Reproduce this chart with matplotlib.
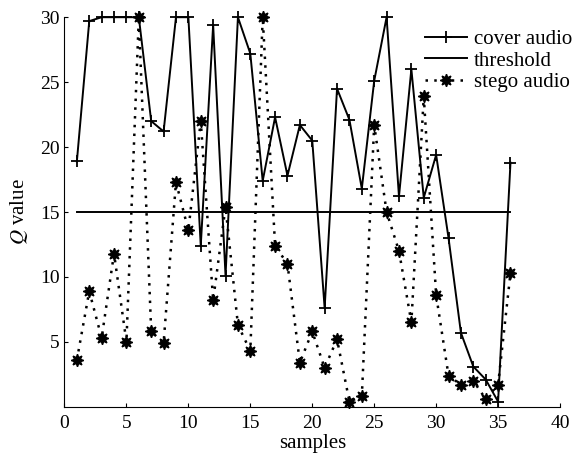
import matplotlib.pyplot as plt

# --------------------------
# data
# --------------------------
samples = list(range(1, 37))
cover = [18.9, 29.7, 30, 30, 30, 30, 22.0, 21.2, 30, 30,
         12.4, 29.4, 10.1, 30, 27.2, 17.4, 22.3, 17.8, 21.7, 20.5,
         7.6, 24.5, 22.1, 16.8, 25.1, 30, 16.2, 26.0, 16.1, 19.4,
         13.0, 5.7, 3.1, 2.1, 0.4, 18.8]
stego = [3.6, 8.9, 5.3, 11.8, 5.0, 30, 5.8, 4.9, 17.3, 13.6,
         22.0, 8.2, 15.4, 6.3, 4.3, 30, 12.4, 11.0, 3.4, 5.8,
         3.0, 5.2, 0.4, 0.8, 21.7, 15.0, 12.0, 6.5, 23.9, 8.6,
         2.4, 1.7, 2.0, 0.6, 1.7, 10.3]
threshold = 15
xticks = [0, 5, 10, 15, 20, 25, 30, 35, 40]
yticks = [5, 10, 15, 20, 25, 30]

plt.rcParams['font.family'] = ['Liberation Serif', 'DejaVu Serif']
plt.rcParams['mathtext.fontset'] = 'stix'
plt.rcParams['font.size'] = 14

fig = plt.figure(figsize=(5.83, 4.53), dpi=100)
ax = fig.add_axes([0.1106, 0.102, 0.85, 0.86])

ax.plot(samples, cover, '-', color='black', lw=1.4, marker='+',
        markersize=8, markeredgewidth=1.3, label='cover audio', clip_on=False)
ax.plot([samples[0], samples[-1]], [threshold, threshold], '-', color='black',
        lw=1.4, label='threshold')
ax.plot(samples, stego, linestyle=(0, (1, 2.5)), color='black', lw=1.8,
        marker=(8, 1, 0), markersize=9, label='stego audio', clip_on=False)

ax.set_xlim(0, 40)
ax.set_ylim(0, 30)
ax.set_xticks(xticks)
ax.set_yticks(yticks)
ax.tick_params(direction='in', length=3, labelsize=14)
ax.tick_params(axis='x', pad=6)
ax.spines['top'].set_visible(False)
ax.spines['right'].set_visible(False)
ax.set_xlabel('samples', fontsize=15, labelpad=1)
ax.set_ylabel('$Q$ value', fontsize=15, labelpad=7)

ax.legend(loc='upper right', bbox_to_anchor=(1.05, 1.0), frameon=False,
          fontsize=15, handlelength=2.0, handletextpad=0.35,
          labelspacing=0.08, borderaxespad=0.2)

plt.savefig('out.png', dpi=100)
